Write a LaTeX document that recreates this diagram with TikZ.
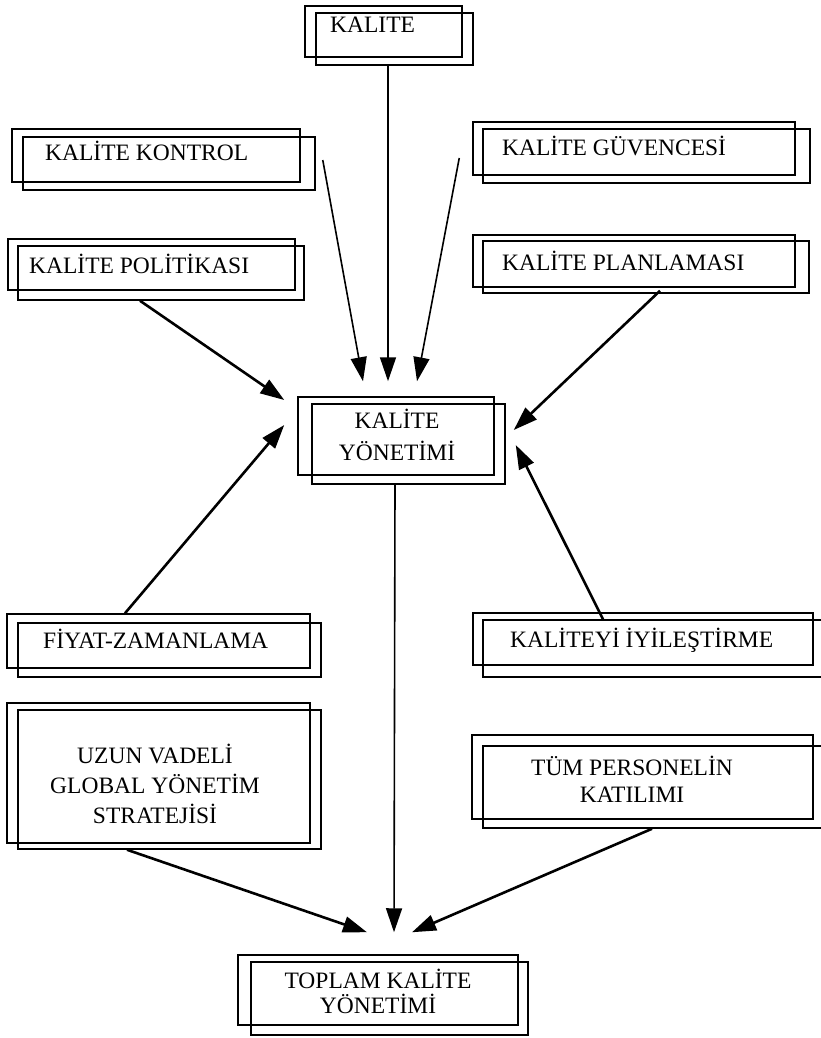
\documentclass[tikz,border=0pt]{standalone}
\usepackage{fontspec}
\setmainfont{Liberation Serif}
\usetikzlibrary{arrows.meta,fit}
\begin{document}
\begin{tikzpicture}[x=1pt,y=-1pt,
  frame/.style={draw, line width=1.5pt, inner sep=0pt},
  caption/.style={font=\fontsize{23.5}{30}\selectfont, inner sep=0pt},
  link/.style={line width=1.6pt, -{Triangle[length=24pt,width=16pt]}},
  slant/.style={link, line width=2.6pt}]
\useasboundingbox (0,0) rectangle (821,1038);

% each box: a front frame and a second frame shifted right and down
\node[frame, fit={(305,6)(462,57)}]     (kalite)   {};
\node[frame, fit={(316,13)(473,65)}]    (kalite-b) {};
\node[caption, anchor=base west] (kalite-t) at (330,33) {KALITE};

\node[frame, fit={(12,129)(300,182)}]   (kontrol)   {};
\node[frame, fit={(23,137)(315,190)}]   (kontrol-b) {};
\node[caption, anchor=base west] (kontrol-t) at (45,160) {KALİTE KONTROL};

\node[frame, fit={(473,122)(795,175)}]  (guvence)   {};
\node[frame, fit={(483,129)(810,183)}]  (guvence-b) {};
\node[caption, anchor=base west] (guvence-t) at (502,155) {KALİTE GÜVENCESİ};

\node[frame, fit={(8,239)(295,290)}]    (politika)   {};
\node[frame, fit={(18,246)(304,300)}]   (politika-b) {};
\node[caption, anchor=base west] (politika-t) at (29,273) {KALİTE POLİTİKASI};

\node[frame, fit={(473,235)(795,287)}]  (plan)   {};
\node[frame, fit={(483,241)(809,293)}]  (plan-b) {};
\node[caption, anchor=base west] (plan-t) at (502,270) {KALİTE PLANLAMASI};

\node[frame, fit={(298,397)(494,475)}]  (yonetim)   {};
\node[frame, fit={(312,404)(505,484)}]  (yonetim-b) {};
\node[caption, anchor=base] (yonetim-t1) at (397,428) {KALİTE};
\node[caption, anchor=base] (yonetim-t2) at (397,460) {YÖNETİMİ};

\node[frame, fit={(7,614)(310,668)}]    (fiyat)   {};
\node[frame, fit={(18,623)(321,677)}]   (fiyat-b) {};
\node[caption, anchor=base west] (fiyat-t) at (43,648) {FİYAT-ZAMANLAMA};

\node[frame, fit={(473,613)(813,665)}]  (iyilestir)   {};
\node[frame, fit={(483,620)(826,677)}]  (iyilestir-b) {};
\node[caption, anchor=base west] (iyilestir-t) at (510,647) {KALİTEYİ İYİLEŞTİRME};

\node[frame, fit={(7,703)(310,843)}]    (strateji)   {};
\node[frame, fit={(18,710)(321,849)}]   (strateji-b) {};
\node[caption, anchor=base] (strateji-t1) at (155,763) {UZUN VADELİ};
\node[caption, anchor=base] (strateji-t2) at (155,793) {GLOBAL YÖNETİM};
\node[caption, anchor=base] (strateji-t3) at (155,823) {STRATEJİSİ};

\node[frame, fit={(472,735)(813,819)}]  (katilim)   {};
\node[frame, fit={(483,746)(826,828)}]  (katilim-b) {};
\node[caption, anchor=base] (katilim-t1) at (632,775) {TÜM PERSONELİN};
\node[caption, anchor=base] (katilim-t2) at (632,802) {KATILIMI};

\node[frame, fit={(238,955)(518,1025)}] (toplam)   {};
\node[frame, fit={(251,962)(528,1035)}] (toplam-b) {};
\node[caption, anchor=base] (toplam-t1) at (378,988) {TOPLAM KALİTE};
\node[caption, anchor=base] (toplam-t2) at (378,1013) {YÖNETİMİ};

% connectors into the central box
\draw[link]  ([xshift=-6.5pt]kalite-b.south) -- ([shift={(-8pt,15pt)}]yonetim.north);
\draw[link]  ([shift={(7pt,3.5pt)}]kontrol-b.east) -- ([shift={(-33pt,15pt)}]yonetim.north);
\draw[link]  ([shift={(-13pt,-9.5pt)}]guvence.west) -- ([shift={(21pt,15pt)}]yonetim.north);
\draw[slant] ([xshift=-21pt]politika-b.south) -- ([shift={(-13pt,36pt)}]yonetim.west);
\draw[slant] ([shift={(14pt,3pt)}]plan-b.south) -- ([shift={(19pt,6pt)}]yonetim.east);
\draw[slant] ([xshift=-33.5pt]fiyat.north) -- ([shift={(-13pt,11pt)}]yonetim.west);
\draw[slant] ([xshift=-51.5pt]iyilestir-b.north) -- ([shift={(21pt,-9pt)}]yonetim.east);

% connectors into the bottom box
\draw[link]  ([xshift=-13.5pt]yonetim-b.south) -- ([shift={(16pt,22pt)}]toplam.north);
\draw[slant] ([xshift=-42.5pt]strateji-b.south) -- ([shift={(-11pt,22pt)}]toplam.north);
\draw[slant] ([xshift=-2.5pt]katilim-b.south) -- ([shift={(34pt,22pt)}]toplam.north);
\end{tikzpicture}
\end{document}
